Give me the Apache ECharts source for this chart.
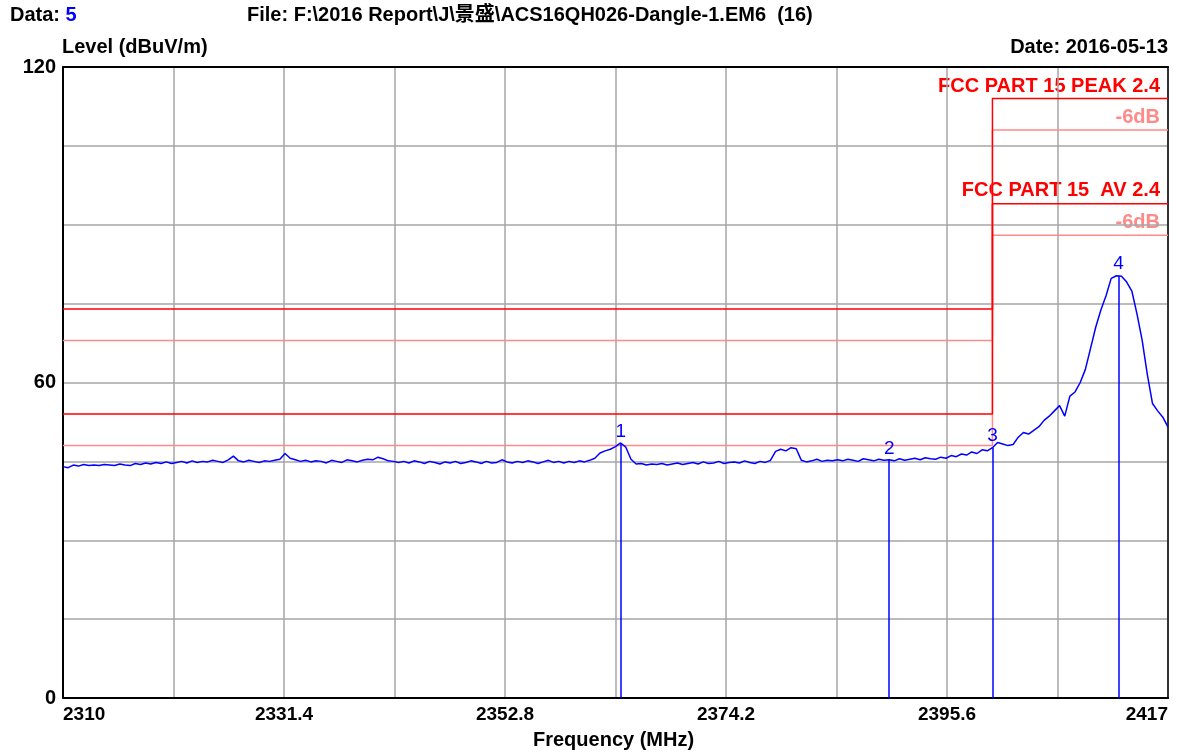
<!DOCTYPE html>
<html>
<head>
<meta charset="utf-8">
<script src="https://cdn.jsdelivr.net/npm/echarts@6/dist/echarts.min.js"></script>
<style>
  html, body { margin: 0; padding: 0; background: #fff; }
  #chart { width: 1193px; height: 756px; }
</style>
</head>
<body>
<div id="chart"></div>
<script>
// trace: level in dBuV/m every 0.5 MHz from 2310 MHz
var traceStart = 2310
var traceStep = 0.5
var traceLevels = [
  44.0, 43.8, 44.3, 44.1, 44.4, 44.2, 44.3, 44.2, 44.4, 44.3,
  44.2, 44.5, 44.3, 44.2, 44.6, 44.4, 44.7, 44.5, 44.8, 44.6,
  44.9, 44.6, 44.8, 45.0, 44.7, 45.1, 44.8, 45.0, 44.9, 45.2,
  45.0, 44.8, 45.3, 46.0, 45.1, 44.9, 45.2, 45.0, 44.8, 45.1,
  45.0, 45.2, 45.4, 46.5, 45.6, 45.3, 45.0, 45.2, 44.9, 45.1,
  45.0, 44.7, 45.2, 45.0, 44.8, 45.3, 45.1, 44.9, 45.2, 45.4,
  45.3, 45.8, 45.5, 45.1, 45.0, 44.8, 45.0, 44.7, 45.1, 44.9,
  44.6, 45.0, 44.8, 44.5, 44.9, 44.7, 45.0, 44.6, 44.8, 45.1,
  44.9, 44.6, 45.0, 44.7, 44.8, 45.3, 44.9, 44.7, 45.0, 44.8,
  45.1, 44.9, 44.6, 44.9, 45.2, 44.8, 45.0, 44.7, 45.0, 44.8,
  45.1, 44.9, 45.2, 45.6, 46.6, 47.0, 47.3, 47.8, 48.5, 47.7,
  45.4, 44.5, 44.6, 44.3, 44.5, 44.4, 44.6, 44.3, 44.5, 44.7,
  44.4, 44.6, 44.8, 44.5, 44.9, 44.6, 44.7, 45.0, 44.6, 44.8,
  44.9, 44.7, 45.1, 44.8, 44.6, 45.0, 44.8, 45.2, 46.9, 47.3,
  47.0, 47.6, 47.4, 45.2, 44.9, 45.1, 45.4, 45.0, 45.2, 45.1,
  45.3, 45.1, 45.4, 45.2, 45.0, 45.5, 45.3, 45.1, 45.4, 45.2,
  45.3, 45.1, 45.5, 45.2, 45.4, 45.6, 45.3, 45.7, 45.5, 45.4,
  45.8, 45.6, 46.1, 45.9, 46.4, 46.2, 46.8, 46.5, 47.2, 47.0,
  47.6, 48.6, 48.3, 48.0, 48.2, 49.6, 50.5, 50.2, 50.9, 51.6,
  52.8, 53.6, 54.6, 55.6, 53.6, 57.4, 58.2, 60.0, 62.5, 66.5,
  70.5, 73.8, 76.5, 79.8, 80.3, 80.2, 79.1, 77.4, 73.0, 68.0,
  61.5, 56.0, 54.6, 53.4, 51.5
]

// limits (step at 2400 MHz)
var limitFreqs = [2310, 2400, 2400, 2417]
var peakLimit = [74, 74, 114, 114]
var peakLimit6 = [68, 68, 108, 108]
var avLimit = [54, 54, 94, 94]
var avLimit6 = [48, 48, 88, 88]

// markers
var markerNames = ['1', '2', '3', '4']
var markerFreqs = [2364.0, 2390.0, 2400.0, 2412.2]
var markerLevels = [48.5, 45.3, 47.6, 80.3]

// tick labels
var xTickLabels = ['2310', '2331.4', '2352.8', '2374.2', '2395.6', '2417']
var yTickLabels = ['0', '60', '120']

var FONT = 'Liberation Sans, Arial, Noto Sans CJK SC, sans-serif'

function pairs(xs, ys) {
  var out = []
  for (var i = 0; i < xs.length; i++) out.push([xs[i], ys[i]])
  return out
}

var trace = []
for (var i = 0; i < traceLevels.length; i++) {
  trace.push([traceStart + i * traceStep, traceLevels[i]])
}

var markLines = []
for (var m = 0; m < markerNames.length; m++) {
  markLines.push([
    { name: markerNames[m], coord: [markerFreqs[m], 0] },
    { coord: [markerFreqs[m], markerLevels[m]] }
  ])
}

function limitSeries(data, color, z) {
  return {
    type: 'line',
    data: data,
    symbol: 'none',
    silent: true,
    z: z,
    lineStyle: { color: color, width: 1.5 }
  }
}

var myChart = echarts.init(document.getElementById('chart'))
var option = {
  animation: false,
  backgroundColor: '#ffffff',
  grid: {
    left: 63,
    right: 25,
    top: 67,
    bottom: 58
  },
  xAxis: [
    {
      type: 'value',
      min: 2310,
      max: 2417,
      interval: 10.7,
      axisLine: { show: true, onZero: false, lineStyle: { color: '#000', width: 2 } },
      axisTick: { show: false },
      splitLine: { show: true, lineStyle: { color: '#a6a6a6', width: 1.5 } },
      axisLabel: {
        color: '#000',
        fontFamily: FONT,
        fontWeight: 'bold',
        fontSize: 19,
        margin: 7,
        alignMinLabel: 'left',
        alignMaxLabel: 'right',
        showMaxLabel: true,
        formatter: function (v) {
          var k = Math.round((v - 2310) / 10.7)
          return k % 2 === 0 ? xTickLabels[k / 2] : ''
        }
      }
    },
    {
      type: 'value',
      position: 'top',
      min: 2310,
      max: 2417,
      axisLine: { show: true, onZero: false, lineStyle: { color: '#000', width: 2 } },
      axisTick: { show: false },
      axisLabel: { show: false },
      splitLine: { show: false }
    }
  ],
  yAxis: [
    {
      type: 'value',
      min: 0,
      max: 120,
      interval: 15,
      axisLine: { show: true, lineStyle: { color: '#000', width: 2 } },
      axisTick: { show: false },
      splitLine: { show: true, lineStyle: { color: '#a6a6a6', width: 1.5 } },
      axisLabel: {
        color: '#000',
        fontFamily: FONT,
        fontWeight: 'bold',
        fontSize: 20,
        margin: 7,
        formatter: function (v) {
          var k = Math.round(v / 60)
          return Math.abs(v - k * 60) < 0.01 ? yTickLabels[k] : ''
        }
      }
    },
    {
      type: 'value',
      position: 'right',
      min: 0,
      max: 120,
      axisLine: { show: true, onZero: false, lineStyle: { color: '#333', width: 2 } },
      axisTick: { show: false },
      axisLabel: { show: false },
      splitLine: { show: false }
    }
  ],
  series: [
    limitSeries(pairs(limitFreqs, peakLimit6), '#ff8a8a', 2),
    limitSeries(pairs(limitFreqs, avLimit6), '#ff8a8a', 2),
    limitSeries(pairs(limitFreqs, peakLimit), '#ff0000', 3),
    limitSeries(pairs(limitFreqs, avLimit), '#ff0000', 3),
    {
      type: 'line',
      data: trace,
      symbol: 'none',
      z: 5,
      lineStyle: { color: '#0000ff', width: 1.5 },
      markLine: {
        silent: true,
        symbol: 'none',
        animation: false,
        lineStyle: { color: '#0000ff', width: 1.5, type: 'solid' },
        label: {
          show: true,
          position: 'end',
          distance: 2,
          formatter: '{b}',
          color: '#0000ff',
          fontFamily: FONT,
          fontSize: 19
        },
        emphasis: { disabled: true },
        data: markLines
      }
    }
  ],
  graphic: [
    {
      type: 'text', left: 10, top: 5,
      style: {
        text: '{a|Data: }{b|5}',
        rich: {
          a: { fontFamily: FONT, fontWeight: 'bold', fontSize: 20, fill: '#000' },
          b: { fontFamily: FONT, fontWeight: 'bold', fontSize: 20, fill: '#0000ff' }
        }
      }
    },
    {
      type: 'text', left: 247, top: 5,
      style: { text: 'File: F:\\2016 Report\\J\\景盛\\ACS16QH026-Dangle-1.EM6  (16)', font: 'bold 20px ' + FONT, fill: '#000' }
    },
    {
      type: 'text', left: 62, top: 37,
      style: { text: 'Level (dBuV/m)', font: 'bold 20px ' + FONT, fill: '#000' }
    },
    {
      type: 'text', right: 25, top: 37,
      style: { text: 'Date: 2016-05-13', font: 'bold 20px ' + FONT, fill: '#000' }
    },
    {
      type: 'text', right: 33, top: 76,
      style: { text: 'FCC PART 15 PEAK 2.4', font: 'bold 20px ' + FONT, fill: '#ff0000' }
    },
    {
      type: 'text', right: 33, top: 107,
      style: { text: '-6dB', font: 'bold 20px ' + FONT, fill: '#ff8a8a' }
    },
    {
      type: 'text', right: 33, top: 180,
      style: { text: 'FCC PART 15  AV 2.4', font: 'bold 20px ' + FONT, fill: '#ff0000' }
    },
    {
      type: 'text', right: 33, top: 212,
      style: { text: '-6dB', font: 'bold 20px ' + FONT, fill: '#ff8a8a' }
    },
    {
      type: 'text', left: 533, top: 730,
      style: { text: 'Frequency (MHz)', font: 'bold 20px ' + FONT, fill: '#000' }
    }
  ]
}
myChart.setOption(option)
window.addEventListener('resize', function () {
  myChart.resize()
})
</script>
</body>
</html>
